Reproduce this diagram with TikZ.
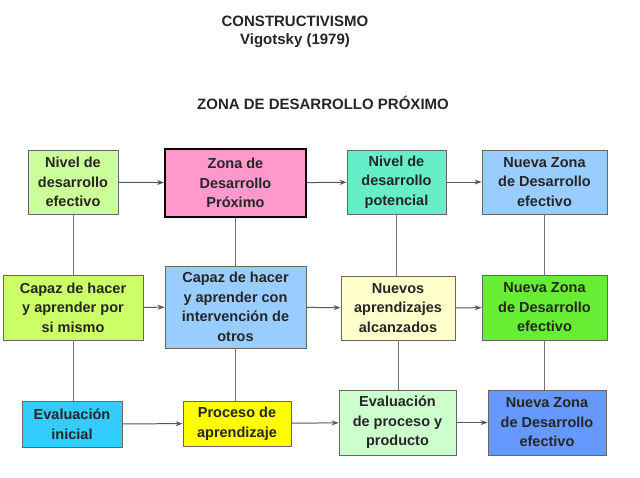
\documentclass[tikz,border=0pt]{standalone}
\usepackage{fontspec}
\setmainfont{Liberation Sans}
\usetikzlibrary{arrows.meta}
\begin{document}
\begin{tikzpicture}[x=1pt,y=-1pt,
  bx/.style={draw=black!60, line width=0.8pt, align=center, inner sep=0pt,
    font=\bfseries\fontsize{14.5}{19.5}\selectfont, text=black!85},
  ar/.style={-{Stealth[length=7pt,width=5pt]}, draw=black!65, line width=1pt},
  ln/.style={draw=black!55, line width=0.8pt},
  ttl/.style={font=\bfseries\fontsize{15}{17}\selectfont, text=black!85}]
\useasboundingbox[fill=white] (0,0) rectangle (640,477);
\node[ttl] (t1) at (295,21) {CONSTRUCTIVISMO};
\node[ttl] (t2) at (295,41) {Vigotsky (1979)};
\node[ttl] (t3) at (323,103) {ZONA DE DESARROLLO PRÓXIMO};
% row 1
\node[bx, fill={rgb,255:red,204;green,255;blue,153}, minimum width=90pt, minimum height=64pt] (a1) at (73,182) {Nivel de\\desarrollo\\efectivo};
\node[bx, fill={rgb,255:red,255;green,153;blue,204}, draw=black, line width=1.8pt, minimum width=141pt, minimum height=68pt] (a2) at (235.5,183) {Zona de\\Desarrollo\\Próximo};
\node[bx, fill={rgb,255:red,102;green,238;blue,200}, minimum width=99pt, minimum height=64pt] (a3) at (396.5,182) {Nivel de\\desarrollo\\potencial};
\node[bx, fill={rgb,255:red,153;green,204;blue,255}, minimum width=125pt, minimum height=64pt] (a4) at (544.5,182) {Nueva Zona\\de Desarrollo\\efectivo};
% row 2
\node[bx, fill={rgb,255:red,204;green,255;blue,102}, minimum width=140pt, minimum height=65pt] (b1) at (73,307.5) {Capaz de hacer\\y aprender por\\si mismo};
\node[bx, fill={rgb,255:red,153;green,204;blue,255}, minimum width=141pt, minimum height=82pt] (b2) at (235.5,307) {Capaz de hacer\\y aprender con\\intervención de\\otros};
\node[bx, fill={rgb,255:red,255;green,255;blue,204}, minimum width=114pt, minimum height=64pt] (b3) at (398,308) {Nuevos\\aprendizajes\\alcanzados};
\node[bx, fill={rgb,255:red,102;green,238;blue,51}, minimum width=125pt, minimum height=65pt] (b4) at (544.5,307.5) {Nueva Zona\\de Desarrollo\\efectivo};
% row 3
\node[bx, fill={rgb,255:red,51;green,204;blue,255}, minimum width=100pt, minimum height=46pt] (c1) at (72,424) {Evaluación\\inicial};
\node[bx, fill={rgb,255:red,255;green,255;blue,0}, minimum width=108pt, minimum height=45pt] (c2) at (237,423.5) {Proceso de\\aprendizaje};
\node[bx, fill={rgb,255:red,204;green,255;blue,204}, minimum width=117pt, minimum height=65pt] (c3) at (397.5,422.5) {Evaluación\\de proceso y\\producto};
\node[bx, fill={rgb,255:red,102;green,153;blue,255}, minimum width=118pt, minimum height=65pt] (c4) at (547,422.5) {Nueva Zona\\de Desarrollo\\efectivo};
% horizontal arrows
\draw[ar] (a1) -- (a2);
\draw[ar] (a2) -- (a3);
\draw[ar] (a3) -- (a4);
\draw[ar] (b1) -- (b2);
\draw[ar] (b2) -- (b3);
\draw[ar] (b3) -- (b4);
\draw[ar] (c1) -- (c2);
\draw[ar] (c2) -- (c3);
\draw[ar] (c3) -- (c4);
% vertical lines
\draw[ln] (a1.south) -- (b1.north);
\draw[ln] (b1.south) -- (c1.north -| b1.south);
\draw[ln] (a2.south) -- (b2.north);
\draw[ln] (b2.south) -- (c2.north -| b2.south);
\draw[ln] (a3.south) -- (b3.north -| a3.south);
\draw[ln] (b3.south) -- (c3.north -| b3.south);
\draw[ln] (a4.south) -- (b4.north);
\draw[ln] (b4.south) -- (c4.north -| b4.south);
\end{tikzpicture}
\end{document}
